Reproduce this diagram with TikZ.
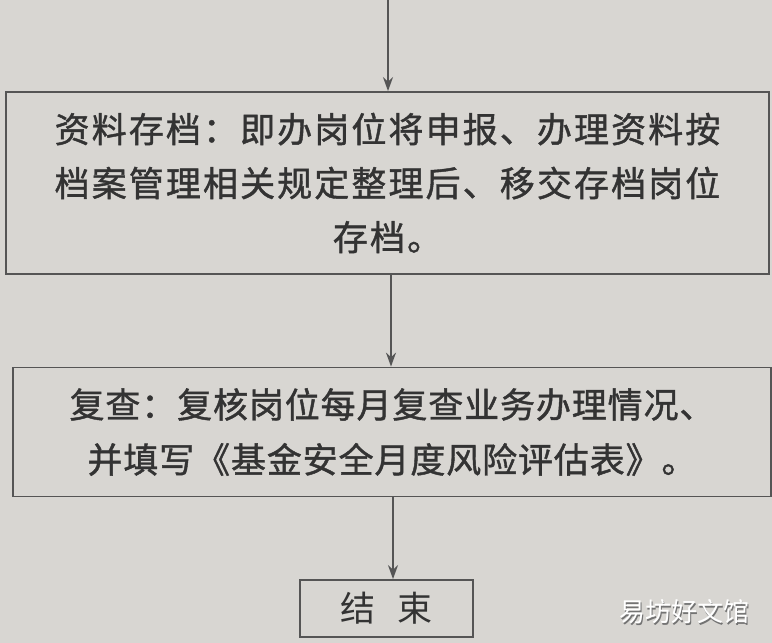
\documentclass[tikz,border=0pt]{standalone}
\usepackage{fontspec}
\newfontfamily\cjk{Noto Sans CJK SC}
\newfontfamily\cjksp[LetterSpace=6,FakeBold=1.2]{Noto Sans CJK SC}
\newfontfamily\cjkspb[LetterSpace=2.5,FakeBold=1.2]{Noto Sans CJK SC}
\usetikzlibrary{arrows.meta}
\definecolor{paper}{HTML}{D8D6D2}
\definecolor{ink}{HTML}{333333}
\definecolor{edge}{HTML}{555555}
\tikzset{
  x=1pt, y=-1pt,
  stepbox/.style={draw=edge, line width=1.8pt, fill=paper, text=ink, align=center,
    inner sep=0pt, font=\cjksp\fontsize{35}{54}\selectfont},
  flow/.style={draw=edge, line width=1.6pt, -{Stealth[length=14pt,width=10pt]}}
}
\begin{document}
\begin{tikzpicture}
\fill[paper] (0,0) rectangle (772,643);
\useasboundingbox (0,0) rectangle (772,643);
\coordinate (top) at (388,0);
\node[stepbox, minimum width=763pt, minimum height=182pt] (b1) at (387.5,183)
  {资料存档：即办岗位将申报、办理资料按\\档案管理相关规定整理后、移交存档岗位\\存档。};
\node[stepbox, minimum width=758pt, minimum height=129pt, font=\cjkspb\fontsize{35}{55}\selectfont] (b2) at (392,432)
  {复查：复核岗位每月复查业务办理情况、\\并填写《基金安全月度风险评估表》。};
\node[stepbox, minimum width=173pt, minimum height=57pt, font=\cjk\fontsize{35}{35}\selectfont] (b3) at (386.5,608.5)
  {结\hspace{22pt}束};
\draw[flow] (top) -- (top |- b1.north);
\draw[flow] (b1.south -| 391,0) -- (b2.north -| 391,0);
\draw[flow] (b2.south -| 393,0) -- (b3.north -| 393,0);
\node[font=\cjk\fontsize{26}{26}\selectfont, text=black!55] (wm0) at (685.5,613.5) {易坊好文馆};
\node[font=\cjk\fontsize{26}{26}\selectfont, text=white] (wm) at (684,612) {易坊好文馆};
\end{tikzpicture}
\end{document}
